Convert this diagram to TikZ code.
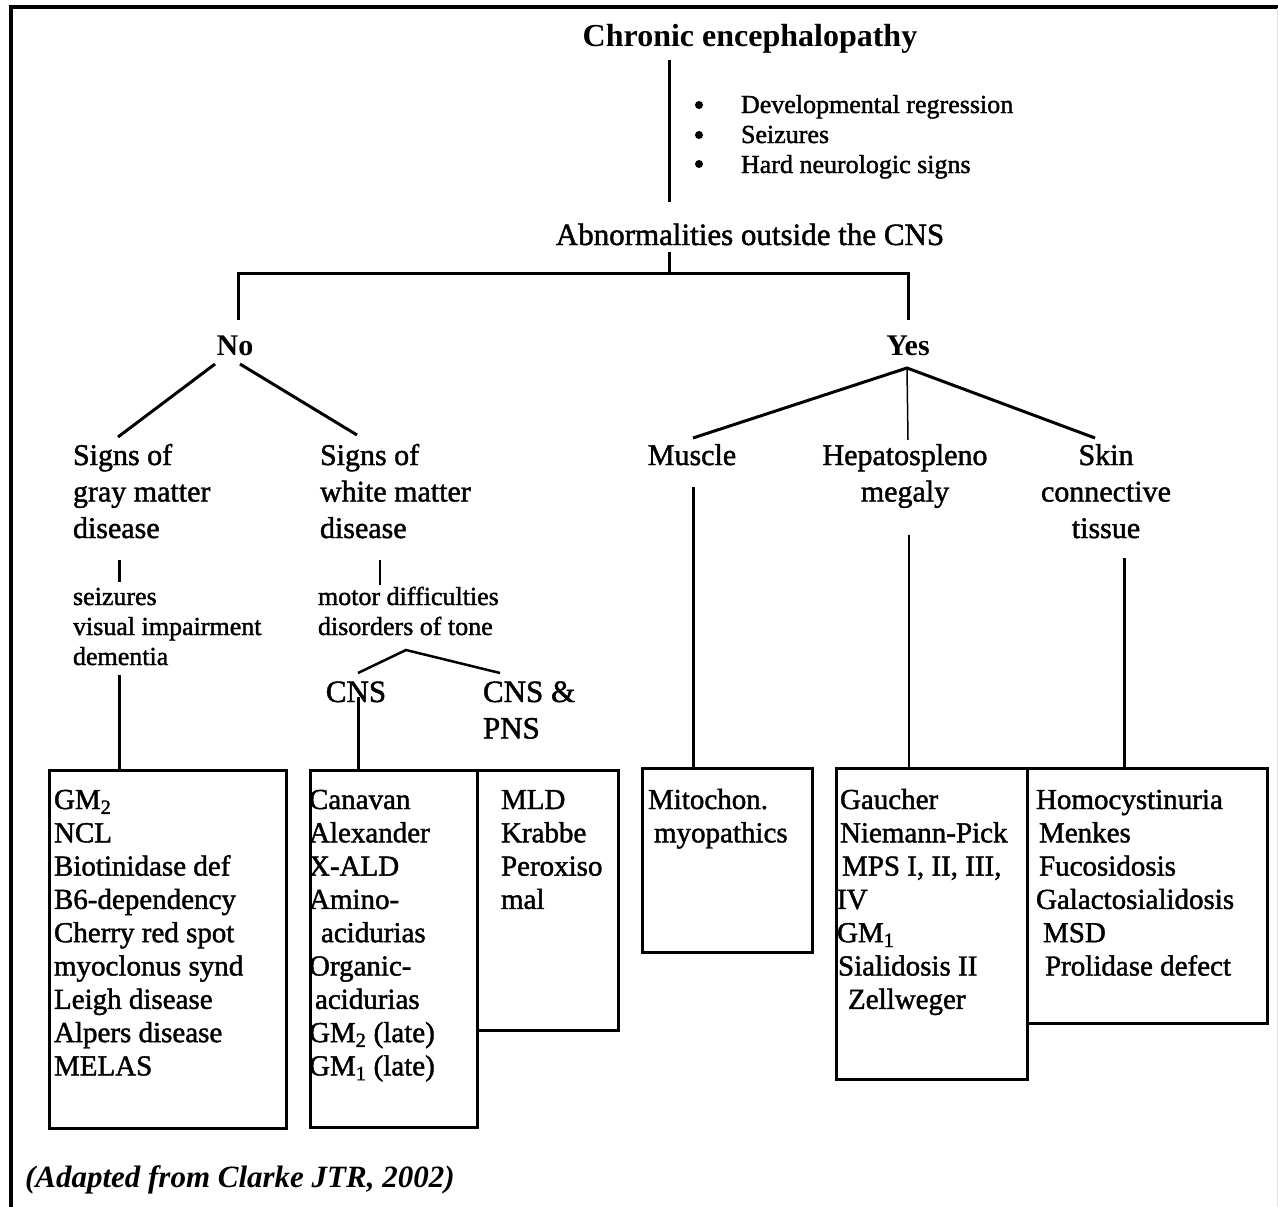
\documentclass[tikz,border=0pt]{standalone}
\usepackage{fontspec}
\setmainfont{Liberation Serif}
\newfontfamily\bodyf{Liberation Serif}[FakeBold=1.5]
\begin{document}
\begin{tikzpicture}[x=1pt,y=-1pt,
  every node/.style={inner sep=0pt, outer sep=0pt},
  big/.style={font=\bodyf\fontsize{31}{36.5}\selectfont, align=left},
  mid/.style={font=\bodyf\fontsize{30}{36.5}\selectfont, align=left},
  small/.style={font=\bodyf\fontsize{26}{30}\selectfont, align=left},
  bulletmark/.style={circle, fill=black, minimum size=8pt},
  boxtxt/.style={font=\bodyf\fontsize{29}{33.3}\selectfont, align=left, anchor=base west},
  boxframe/.style={draw, line width=3pt, anchor=north west},
  thick3/.style={line width=3pt},
  thin1/.style={line width=1.5pt}]
\useasboundingbox (0,0) rectangle (1278,1207);
% outer frame
\draw[line width=3.5pt] (11,1210) -- (11,7) -- (1280,7);
\draw[line width=1pt, black!12] (1277,8) -- (1277,1207);

% top (multi-line nodes: base anchor = baseline of last line)
\node[font=\bfseries\fontsize{32}{38}\selectfont, anchor=base] (title) at (750,47) {Chronic encephalopathy};
\node[bulletmark] (bul1) at (699,105) {};
\node[bulletmark] (bul2) at (699,135) {};
\node[bulletmark] (bul3) at (699,164) {};
\node[small, anchor=base west] (signs) at (741,173) {Developmental regression\\Seizures\\Hard neurologic signs};
\node[big, anchor=base] (abn) at (750,245) {Abnormalities outside the CNS};

\coordinate (t1) at (669,60);
\coordinate (t2) at (669,202);
\coordinate (a1) at (669,252);
\coordinate (a2) at (669,273);
\draw[thick3] (t1) -- (t2);
\draw[thick3] (a1) -- (a2);

% No / Yes
\node[font=\bfseries\fontsize{30}{36}\selectfont, anchor=base] (no) at (235,355) {No};
\node[font=\bfseries\fontsize{30}{36}\selectfont, anchor=base] (yes) at (908,355) {Yes};
\coordinate (noT) at (238,320);
\coordinate (yesT) at (908,320);
\draw[thick3] (noT) -- (238,273) -- (908,273) -- (yesT);

% level 3
\node[mid, anchor=base west] (gray) at (73,538) {Signs of\\gray matter\\disease};
\node[mid, anchor=base west] (white) at (320,538) {Signs of\\white matter\\disease};
\node[mid, anchor=base] (muscle) at (692,465) {Muscle};
\node[mid, anchor=base, align=center] (hepato) at (905,501.5) {Hepatospleno\\megaly};
\node[mid, anchor=base, align=center] (skin) at (1106,538) {Skin\\connective\\tissue};

\coordinate (noL) at (215,364);
\coordinate (noR) at (240,364);
\coordinate (grayT) at (118,437);
\coordinate (whiteT) at (357,435);
\draw[thick3] (noL) -- (grayT);
\draw[thick3] (noR) -- (whiteT);

\coordinate (apex) at (907,368);
\coordinate (muscleT) at (693,438);
\coordinate (hepatoT) at (908,440);
\coordinate (skinT) at (1095,438);
\draw[thick3] (muscleT) -- (apex) -- (skinT);
\draw[thin1] (apex) -- (hepatoT);

% symptoms
\node[small, anchor=base west] (gsym) at (73,665) {seizures\\visual impairment\\dementia};
\node[small, anchor=base west] (wsym) at (318,635) {motor difficulties\\disorders of tone};
\draw[thick3] (119,560) coordinate (g1) -- (119,582) coordinate (g2);
\draw[thin1] (380,560) coordinate (w1) -- (380,585) coordinate (w2);

\node[big, anchor=base] (cns) at (356,702) {CNS};
\node[big, anchor=base west] (cnspns) at (483,738.5) {CNS \&\\PNS};
\coordinate (tl) at (358,673);
\coordinate (tp) at (406,650);
\coordinate (tr) at (500,673);
\draw[line width=2.5pt] (tl) -- (tp) -- (tr);

% boxes
\node[boxframe, minimum width=237pt, minimum height=358pt] (b1) at (49,770) {};
\node[boxframe, minimum width=167pt, minimum height=357pt] (b2) at (310,770) {};
\node[boxframe, minimum width=141pt, minimum height=260pt] (b3) at (477,770) {};
\node[boxframe, minimum width=170pt, minimum height=184pt] (b4) at (642,768) {};
\node[boxframe, minimum width=191pt, minimum height=311pt] (b5) at (836,768) {};
\node[boxframe, minimum width=240pt, minimum height=255pt] (b6) at (1027,768) {};

% connectors to boxes
\draw[thick3] (119,675) coordinate (g3) -- (b1.north -| g3);
\draw[thick3] (358,697) coordinate (c1) -- (b2.north -| c1);
\draw[thick3] (693,487) coordinate (m1) -- (b4.north -| m1);
\draw[thin1] (909,535) coordinate (h1) -- (b5.north -| h1);
\draw[thick3] (1124,558) coordinate (s1) -- (b5.north -| s1);

% box texts
\node[boxtxt] (t1b) at (54,1075.4) {GM\textsubscript{2}\\NCL\\Biotinidase def\\B6-dependency\\Cherry red spot\\myoclonus synd\\Leigh disease\\Alpers disease\\MELAS};
\node[boxtxt] (t2b) at (309,1075.4) {Canavan\\Alexander\\X-ALD\\Amino-\\\hspace*{12pt}acidurias\\Organic-\\\hspace*{6pt}acidurias\\GM\textsubscript{2} (late)\\GM\textsubscript{1} (late)};
\node[boxtxt] (t3b) at (501,908.9) {MLD\\Krabbe\\Peroxiso\\mal};
\node[boxtxt] (t4b) at (648,842.3) {Mitochon.\\\hspace*{6pt}myopathics};
\node[boxtxt] (t5b) at (837,1008.8) {\hspace*{3pt}Gaucher\\\hspace*{3pt}Niemann-Pick\\\hspace*{5pt}MPS I, II, III,\\IV\\GM\textsubscript{1}\\\hspace*{1pt}Sialidosis II\\\hspace*{11pt}Zellweger};
\node[boxtxt] (t6b) at (1036,975.5) {Homocystinuria\\\hspace*{3pt}Menkes\\\hspace*{3pt}Fucosidosis\\Galactosialidosis\\\hspace*{7pt}MSD\\\hspace*{9pt}Prolidase defect};

% caption
\node[font=\bfseries\itshape\fontsize{31}{36}\selectfont, anchor=base west] (cap) at (25,1187) {(Adapted from Clarke JTR, 2002)};
\end{tikzpicture}
\end{document}
